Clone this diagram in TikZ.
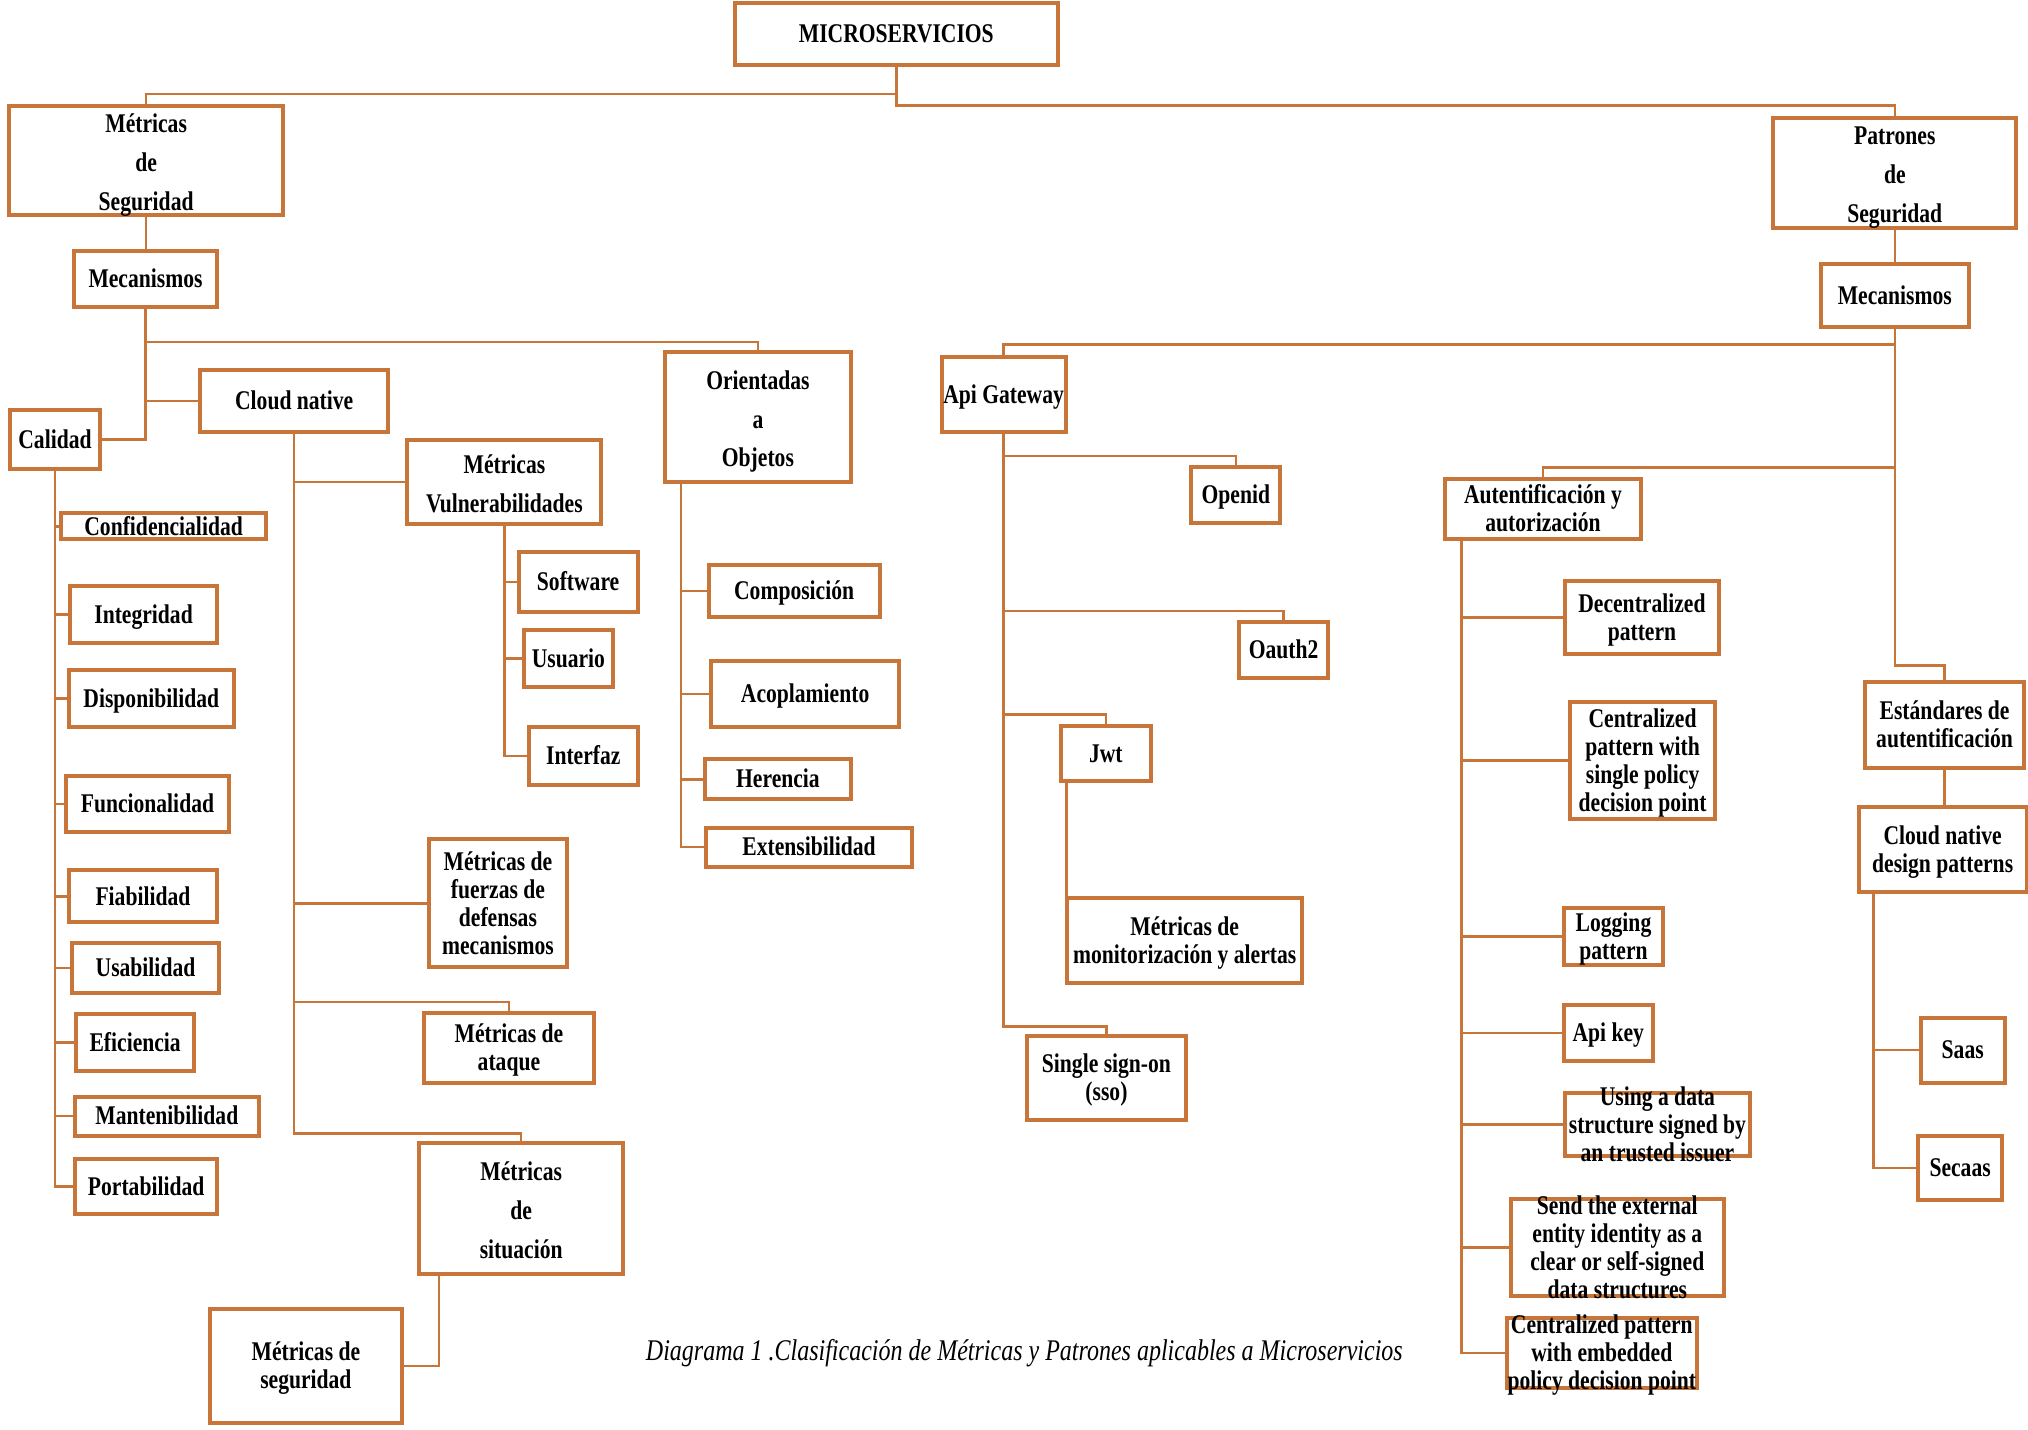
\documentclass[tikz,border=0pt]{standalone}
\usepackage{fontspec}
\setmainfont{Liberation Serif}[FakeStretch=0.8]
\usetikzlibrary{fit}
\definecolor{brd}{RGB}{199,117,56}

% centred multi-line label that does not enlarge its box
\newcommand\boxtext[2]{\makebox[0pt]{\smash{\raisebox{-9.35pt}{\def\arraystretch{#1}\begin{tabular}{@{}c@{}}#2\end{tabular}}}}}
% \mybox[line stretch]{name}{x1}{y1}{x2}{y2}{text}
\newcommand\mybox[7][1]{\node[box, fit={(#3,#4) (#5,#6)}] (#2) {\boxtext{#1}{#7}};}

\begin{document}
\begin{tikzpicture}[x=1.2934pt, y=-1.2934pt,
  box/.style={draw=brd, line width=4pt, fill=white, inner sep=0pt,
    font=\fontsize{27}{28}\selectfont\bfseries},
  conn/.style={draw=brd, line width=2.5pt},
  caption/.style={font=\fontsize{30}{32}\selectfont\itshape, inner sep=0pt}]
\useasboundingbox (0,0) rectangle (1568,1105);

% ---------- top level ----------
\mybox{mic}{568}{2}{818}{50}{MICROSERVICIOS}
\mybox[1.39]{metseg}{7}{82}{219}{166}{Métricas\\de\\Seguridad}
\mybox[1.39]{pat}{1371}{91}{1559}{176}{Patrones\\de\\Seguridad}
\mybox{mecA}{57}{194}{168}{237}{Mecanismos}
\mybox{mecB}{1408}{204}{1522}{253}{Mecanismos}

% ---------- left branch ----------
\mybox{cal}{8}{317}{77}{363}{Calidad}
\mybox{cloud}{155}{286}{300}{334}{Cloud native}
\mybox[1.39]{oo}{514}{272}{658}{373}{Orientadas\\a\\Objetos}

\mybox{conf}{47}{397}{206}{417}{Confidencialidad}
\mybox{integ}{54}{453}{168}{497}{Integridad}
\mybox{disp}{53}{518}{181}{562}{Disponibilidad}
\mybox{func}{51}{600}{177}{643}{Funcionalidad}
\mybox{fiab}{53}{673}{168}{713}{Fiabilidad}
\mybox{usab}{56}{729}{169}{768}{Usabilidad}
\mybox{efic}{59}{784}{150}{828}{Eficiencia}
\mybox{mant}{58}{848}{200}{878}{Mantenibilidad}
\mybox{port}{58}{896}{168}{939}{Portabilidad}

\mybox[1.39]{vuln}{315}{340}{465}{405}{Métricas\\Vulnerabilidades}
\mybox{soft}{401}{427}{493}{473}{Software}
\mybox{usua}{405}{487}{474}{531}{Usuario}
\mybox{intf}{409}{562}{493}{607}{Interfaz}
\mybox{fuer}{332}{649}{438}{748}{Métricas de\\fuerzas de\\defensas\\mecanismos}
\mybox{ataq}{328}{783}{459}{837}{Métricas de\\ataque}
\mybox[1.39]{sit}{324}{884}{482}{985}{Métricas\\de\\situación}
\mybox{msegu}{162}{1012}{311}{1100}{Métricas de\\seguridad}

\mybox{comp}{548}{437}{680}{477}{Composición}
\mybox{acop}{550}{511}{695}{562}{Acoplamiento}
\mybox{here}{545}{587}{658}{618}{Herencia}
\mybox{exte}{546}{640}{705}{670}{Extensibilidad}

% ---------- right branch ----------
\mybox{api}{728}{276}{824}{334}{Api Gateway}
\mybox{openid}{921}{361}{990}{404}{Openid}
\mybox{oauth}{958}{481}{1027}{524}{Oauth2}
\mybox{jwt}{820}{561}{890}{604}{Jwt}
\mybox{moni}{825}{694}{1007}{760}{Métricas de\\monitorización y alertas}
\mybox{sso}{794}{801}{917}{866}{Single sign-on\\(sso)}

\mybox{aut}{1117}{370}{1269}{417}{Autentificación y\\autorización}
\mybox{dec}{1210}{449}{1329}{506}{Decentralized\\pattern}
\mybox{cen}{1214}{543}{1326}{633}{Centralized\\pattern with\\single policy\\decision point}
\mybox{logp}{1209}{702}{1286}{746}{Logging\\pattern}
\mybox{apik}{1209}{777}{1278}{820}{Api key}
\mybox{usin}{1210}{845}{1353}{894}{Using a data\\structure signed by\\an trusted issuer}
\mybox{send}{1168}{927}{1333}{1002}{Send the external\\entity identity as a\\clear or self-signed\\data structures}
\mybox{cemb}{1165}{1019}{1312}{1073}{Centralized pattern\\with embedded\\policy decision point}

\mybox{est}{1442}{527}{1565}{594}{Estándares de\\autentificación}
\mybox{cndp}{1437}{624}{1567}{690}{Cloud native\\design patterns}
\mybox{saas}{1485}{787}{1550}{837}{Saas}
\mybox{seca}{1483}{878}{1548}{928}{Secaas}

\node[caption] (cap) at (792,1046) {Diagrama 1 .Clasificación de Métricas y Patrones aplicables a Microservicios};

% ---------- connectors ----------
\begin{scope}[every path/.style={conn}]
  \path (mic.south) -- ++(0,21) -| (metseg.north);
  \path (mic.south) -- ++(0,30) -| (pat.north);
  \path (metseg.south) -- (metseg.south |- mecA.north);
  \path (pat.south) -- (pat.south |- mecB.north);

  % left mechanisms
  \path (mecA.south) -- ++(0,26) -| (oo.north);
  \path (mecA.south) |- (cloud.west);
  \path (mecA.south) |- (cal.east);

  \foreach \c in {conf,integ,disp,func,fiab,usab,efic,mant,port}
    \path (cal.south) |- (\c.west);

  \path (cloud.south) |- (vuln.west);
  \path (cloud.south) |- (fuer.west);
  \path (cloud.south) -- ++(0,439) -| (ataq.north);
  \path (cloud.south) -- ++(0,541) -| (sit.north);
  \path ([xshift=22pt]sit.south west) |- (msegu.east);

  \foreach \c in {soft,usua,intf}
    \path (vuln.south) |- (\c.west);

  \foreach \c in {comp,acop,here,exte}
    \path ([xshift=18pt]oo.south west) |- (\c.west);

  % right mechanisms
  \path (mecB.south) -- ++(0,12) -| (api.north);
  \path (mecB.south) -- ++(0,107) -| (aut.north);
  \path (mecB.south) -- ++(0,260) -| (est.north);
  \path (est.south) -- (est.south |- cndp.north);
  \foreach \c in {saas,seca}
    \path ([xshift=17pt]cndp.south west) |- (\c.west);

  \path (api.south) -- ++(0,17) -| (openid.north);
  \path (api.south) -- ++(0,137) -| (oauth.north);
  \path (api.south) -- ++(0,217) -| (jwt.north);
  \path (api.south) -- ++(0,458) -| (sso.north);
  \path ([xshift=8pt]jwt.south west) -- ([xshift=8pt]jwt.south west |- moni.north);

  \foreach \c in {dec,cen,logp,apik,usin,send,cemb}
    \path ([xshift=19pt]aut.south west) |- (\c.west);
\end{scope}
\end{tikzpicture}
\end{document}
